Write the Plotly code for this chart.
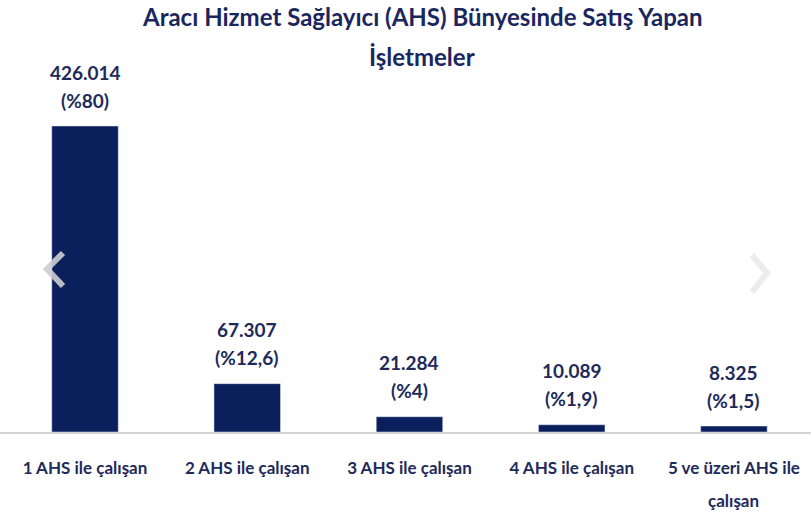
import plotly.graph_objects as go

categories = ["1 AHS ile çalışan", "2 AHS ile çalışan", "3 AHS ile çalışan",
              "4 AHS ile çalışan", "5 ve üzeri AHS ile\nçalışan"]
values = [426014, 67307, 21284, 10089, 8325]
value_labels = ["426.014", "67.307", "21.284", "10.089", "8.325"]
pct_labels = ["(%80)", "(%12,6)", "(%4)", "(%1,9)", "(%1,5)"]
title_lines = ["Aracı Hizmet Sağlayıcı (AHS) Bünyesinde Satış Yapan", "İşletmeler"]

W, H = 811, 520
BASE = 432          # pixel y of baseline
FONT = "Lato, Carlito, Calibri, sans-serif"
BAR = "#0b1f5c"
TXT = "#1e2a5a"

def py(p):          # pixel y -> paper y
    return (BASE - p) / BASE

def px(p):          # pixel x -> paper x
    return p / W

x = list(range(len(categories)))
fig = go.Figure(go.Bar(x=x, y=values, marker_color=BAR, width=0.41, hoverinfo="skip"))

ann = []
for i, (v, vl, pl) in enumerate(zip(values, value_labels, pct_labels)):
    ann.append(dict(x=i, y=v, xref="x", yref="y", text=f"<b>{pl}</b>", showarrow=False,
                    yanchor="middle", yshift=26, font=dict(family=FONT, size=19, color=TXT)))
    ann.append(dict(x=i, y=v, xref="x", yref="y", text=f"<b>{vl}</b>", showarrow=False,
                    yanchor="middle", yshift=54, font=dict(family=FONT, size=19, color=TXT)))

# second lines of wrapped category labels
tick_first = []
for i, c in enumerate(categories):
    parts = c.split("\n")
    tick_first.append(f"<b>{parts[0]}</b>")
    for k, extra in enumerate(parts[1:], start=1):
        ann.append(dict(x=i, y=py(468 + 32 * k), xref="x", yref="paper", text=f"<b>{extra}</b>",
                        showarrow=False, yanchor="middle",
                        font=dict(family=FONT, size=17, color=TXT)))

for line, p in zip(title_lines, [16, 56]):
    ann.append(dict(x=px(422), y=py(p), xref="paper", yref="paper", text=f"<b>{line}</b>",
                    showarrow=False, yanchor="middle", xanchor="center",
                    font=dict(family=FONT, size=24, color="#1a275e")))

shapes = [
    dict(type="path", xref="paper", yref="paper",
         path=f"M {px(63)},{py(253)} L {px(47)},{py(269)} L {px(63)},{py(286)}",
         line=dict(color="rgba(205,205,210,0.9)", width=6)),
    dict(type="path", xref="paper", yref="paper",
         path=f"M {px(752)},{py(255)} L {px(767)},{py(273)} L {px(752)},{py(292)}",
         line=dict(color="rgba(234,234,234,0.9)", width=6)),
]

fig.update_layout(
    width=W, height=H, margin=dict(l=0, r=0, t=0, b=H - BASE),
    plot_bgcolor="white", paper_bgcolor="white", showlegend=False,
    annotations=ann, shapes=shapes,
    xaxis=dict(range=[-0.524, 4.475], tickvals=x, ticktext=tick_first,
               showline=True, linecolor="#d4d4d4", linewidth=2, ticks="",
               showgrid=False, zeroline=False, ticklabelstandoff=20,
               tickfont=dict(family=FONT, size=17, color=TXT)),
    yaxis=dict(range=[0, values[0] * BASE / 306], visible=False, showgrid=False, zeroline=False),
)

fig.write_html("out.html", config={"displayModeBar": False},
               post_script="document.body.style.margin='0';")
